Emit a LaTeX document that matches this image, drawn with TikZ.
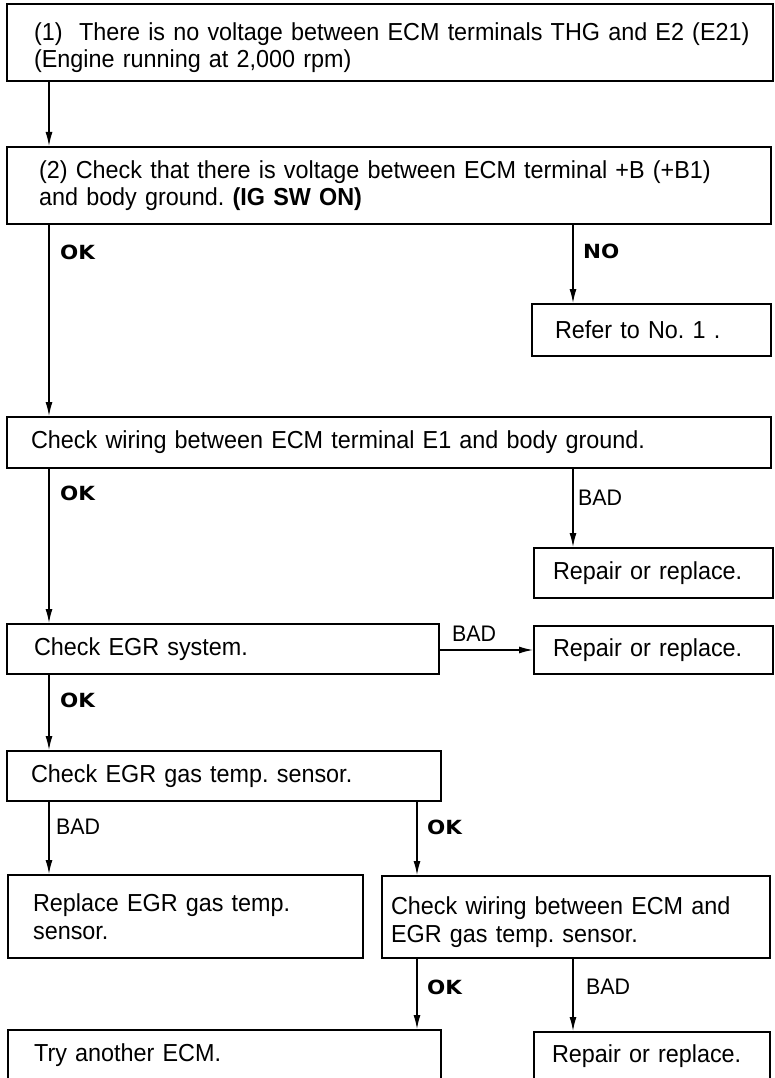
\documentclass[tikz,border=0pt]{standalone}
\usepackage{fontspec}
\setmainfont[FakeStretch=0.95]{Liberation Sans}
\newfontfamily\lblfont[FakeStretch=1.1]{DejaVu Sans}
\usetikzlibrary{arrows.meta}
\frenchspacing
\tikzset{
  box/.style={draw, line width=2.2pt, rectangle, anchor=north west, inner ysep=0pt,
    align=left, font=\fontsize{24.6}{27.5}\selectfont},
  arr/.style={line width=1.3pt, -{Latex[length=14pt,width=7pt]}},
  oklbl/.style={anchor=west, inner sep=0pt, font=\lblfont\bfseries\fontsize{19.5}{21}\selectfont},
  badlbl/.style={anchor=west, inner sep=0pt, font=\fontsize{22.5}{24}\selectfont},
}
\begin{document}
\begin{tikzpicture}[x=1pt,y=-1pt]
\useasboundingbox (0,0) rectangle (775,1078);
\clip (0,0) rectangle (775,1078);
% column coordinates
\coordinate (cL) at (49,0);
\coordinate (cR) at (573,0);
\coordinate (cM) at (417,0);
\coordinate (cH) at (0,650);
% boxes
\node[box, minimum width=766pt, minimum height=77pt, inner xsep=27pt, text width=712pt] (b1) at (6,3)
  {\rule{0pt}{28pt}\mbox{(1)\ \ There is no voltage between ECM terminals THG and E2 (E21)}\\\mbox{(Engine running at 2,000 rpm)}};
\node[box, minimum width=764pt, minimum height=77pt, inner xsep=32pt, text width=700pt] (b2) at (6,146)
  {\mbox{(2) Check that there is voltage between ECM terminal +B (+B1)}\\\mbox{and body ground. \textbf{(IG SW ON)}}};
\node[box, minimum width=239pt, minimum height=52pt, inner xsep=23pt, text width=193pt] (refer) at (531,303)
  {\mbox{Refer to No. 1 .}};
\node[box, minimum width=764pt, minimum height=51pt, inner xsep=24pt, text width=716pt] (b3) at (6,416)
  {\mbox{Check wiring between ECM terminal E1 and body ground.}};
\node[box, minimum width=239pt, minimum height=50pt, inner xsep=19pt, text width=201pt] (r1) at (533,547)
  {\mbox{Repair or replace.}};
\node[box, minimum width=432pt, minimum height=50pt, inner xsep=27pt, text width=378pt] (b4) at (6,623)
  {\mbox{Check EGR system.}};
\node[box, minimum width=239pt, minimum height=48pt, inner xsep=19pt, text width=201pt] (r2) at (533,625)
  {\mbox{Repair or replace.}};
\node[box, minimum width=434pt, minimum height=50pt, inner xsep=24pt, text width=386pt] (b5) at (6,750)
  {\mbox{Check EGR gas temp. sensor.}};
\node[box, minimum width=355pt, minimum height=83pt, inner xsep=25pt, text width=305pt] (b6) at (7,874)
  {\mbox{Replace EGR gas temp.}\\\mbox{sensor.}};
\node[box, minimum width=388pt, minimum height=82pt, inner xsep=9pt, text width=370pt] (b7) at (381,875)
  {\rule{0pt}{28pt}\mbox{Check wiring between ECM and}\\\mbox{EGR gas temp. sensor.}};
\node[box, minimum width=433pt, minimum height=50pt, inner xsep=26pt, text width=381pt] (b8) at (7,1029)
  {\mbox{Try another ECM.}};
\node[box, minimum width=236pt, minimum height=48pt, inner xsep=18pt, text width=200pt] (r3) at (533,1031)
  {\mbox{Repair or replace.}};
% connectors
\draw[arr] (b1.south -| cL) -- (b2.north -| cL);
\draw[arr] (b2.south -| cL) -- (b3.north -| cL);
\draw[arr] (b2.south -| cR) -- (refer.north -| cR);
\draw[arr] (b3.south -| cL) -- (b4.north -| cL);
\draw[arr] (b3.south -| cR) -- (r1.north -| cR);
\draw[arr] (b4.east |- cH) -- (r2.west |- cH);
\draw[arr] (b4.south -| cL) -- (b5.north -| cL);
\draw[arr] (b5.south -| cL) -- (b6.north -| cL);
\draw[arr] (b5.south -| cM) -- (b7.north -| cM);
\draw[arr] (b7.south -| cM) -- (b8.north -| cM);
\draw[arr] (b7.south -| cR) -- (r3.north -| cR);
% labels
\node[oklbl] (l1) at (60,252) {OK};
\node[oklbl] (l2) at (583,251) {NO};
\node[oklbl] (l3) at (60,493) {OK};
\node[badlbl] (l4) at (578,498) {BAD};
\node[badlbl] (l5) at (452,634) {BAD};
\node[oklbl] (l6) at (60,700) {OK};
\node[badlbl] (l7) at (56,827) {BAD};
\node[oklbl] (l8) at (427,827) {OK};
\node[oklbl] (l9) at (427,987) {OK};
\node[badlbl] (l10) at (586,987) {BAD};
\end{tikzpicture}
\end{document}
